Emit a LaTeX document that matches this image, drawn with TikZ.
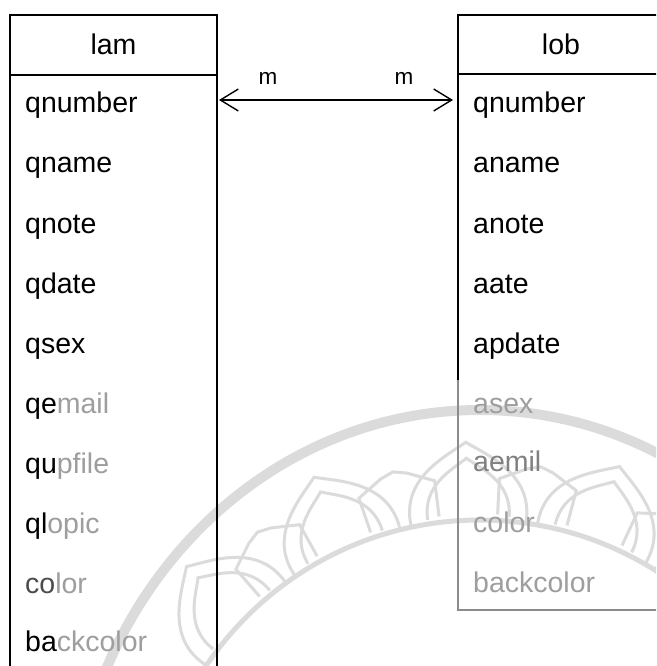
\documentclass[tikz,border=0pt]{standalone}
\usepackage{fontspec}
\setmainfont{Liberation Sans}
\usetikzlibrary{arrows.meta,calc}
\definecolor{fadetext}{gray}{0.62}
\definecolor{fadeline}{gray}{0.55}
\definecolor{wmark}{gray}{0.86}
\begin{document}
\begin{tikzpicture}[x=1pt,y=-1pt,
  frame/.style={line width=1.4pt, draw=black},
  fadeframe/.style={line width=1.1pt, draw=fadeline},
  field/.style={anchor=base west, inner sep=0pt, font=\fontsize{28.5}{30}\selectfont},
  head/.style={anchor=base, inner sep=0pt, font=\fontsize{28.5}{30}\selectfont},
  card/.style={anchor=base, inner sep=0pt, font=\fontsize{22.5}{24}\selectfont},
  wm/.style={draw=wmark, line width=3pt},
  link/.style={line width=1.4pt, {Straight Barb[length=18pt,width=22pt,line width=1.4pt]}-{Straight Barb[length=18pt,width=22pt,line width=1.4pt]}}
]
\useasboundingbox (0,0) rectangle (656,666);
\clip (0,0) rectangle (656,666);
\fill[white] (0,0) rectangle (656,666);

% faint watermark
\coordinate (wc) at (480,850);
\draw[draw=wmark, line width=10pt] (wc) ellipse [x radius=410, y radius=440];
\draw[draw=wmark, line width=5pt] (wc) circle [radius=330];
\foreach \a in {48,70,92,114,136} {
  \draw[wm] ($(wc)+(-\a+10:332)$) .. controls ($(wc)+(-\a+10:380)$) and ($(wc)+(-\a+3:395)$) .. ($(wc)+(-\a:408)$)
            .. controls ($(wc)+(-\a-3:395)$) and ($(wc)+(-\a-10:380)$) .. ($(wc)+(-\a-10:332)$);
  \draw[wm] ($(wc)+(-\a+7:334)$) .. controls ($(wc)+(-\a+7:370)$) and ($(wc)+(-\a+2:382)$) .. ($(wc)+(-\a:392)$)
            .. controls ($(wc)+(-\a-2:382)$) and ($(wc)+(-\a-7:370)$) .. ($(wc)+(-\a-7:334)$);
}
\foreach \a in {59,81,103,125} {
  \draw[wm] ($(wc)+(-\a+6:336)$) -- ($(wc)+(-\a+6:372)$) -- ($(wc)+(-\a+2:384)$) -- ($(wc)+(-\a:388)$)
            -- ($(wc)+(-\a-2:384)$) -- ($(wc)+(-\a-6:372)$) -- ($(wc)+(-\a-6:336)$);
}

% left table "lam"
\draw[frame] (10,680) -- (10,15) -- (217,15) -- (217,680);
\draw[frame] (10,75) -- (217,75);
\node[head] (lamhead) at (113.5,55) {lam};
\node[field] (l1) at (25,113) {qnumber};
\node[field] (l2) at (25,172) {qname};
\node[field] (l3) at (25,233) {qnote};
\node[field] (l4) at (25,293) {qdate};
\node[field] (l5) at (25,353) {qsex};
\node[field] (l6) at (25,413) {qe\textcolor{fadetext}{mail}};
\node[field] (l7) at (25,473) {qu\textcolor{fadetext}{pfile}};
\node[field] (l8) at (25,533) {ql\textcolor{fadetext}{opic}};
\node[field] (l9) at (25,593) {\textcolor{black!70}{co}\textcolor{fadetext}{lor}};
\node[field] (l10) at (25,651) {ba\textcolor{fadetext}{ckcolor}};

% right table "lob"
\draw[frame] (458,380) -- (458,15) -- (680,15);
\draw[frame] (458,74) -- (680,74);
\draw[fadeframe] (458,380) -- (458,610) -- (680,610);
\node[head] (lobhead) at (561,55) {lob};
\node[field] (r1) at (473,113) {qnumber};
\node[field] (r2) at (473,172) {aname};
\node[field] (r3) at (473,233) {anote};
\node[field] (r4) at (473,293) {aate};
\node[field] (r5) at (473,353) {apdate};
\node[field, text=fadetext] (r6) at (473,413) {asex};
\node[field, text=black!50] (r7) at (473,471) {aemil};
\node[field, text=fadetext] (r8) at (473,532) {color};
\node[field, text=fadetext] (r9) at (473,592) {backcolor};

% relationship
\coordinate (lamside) at (219,100);
\coordinate (lobside) at (453,100);
\draw[link] (lamside) -- (lobside);
\node[card] (card1) at (268,85) {m};
\node[card] (card2) at (404,85) {m};
\end{tikzpicture}
\end{document}
